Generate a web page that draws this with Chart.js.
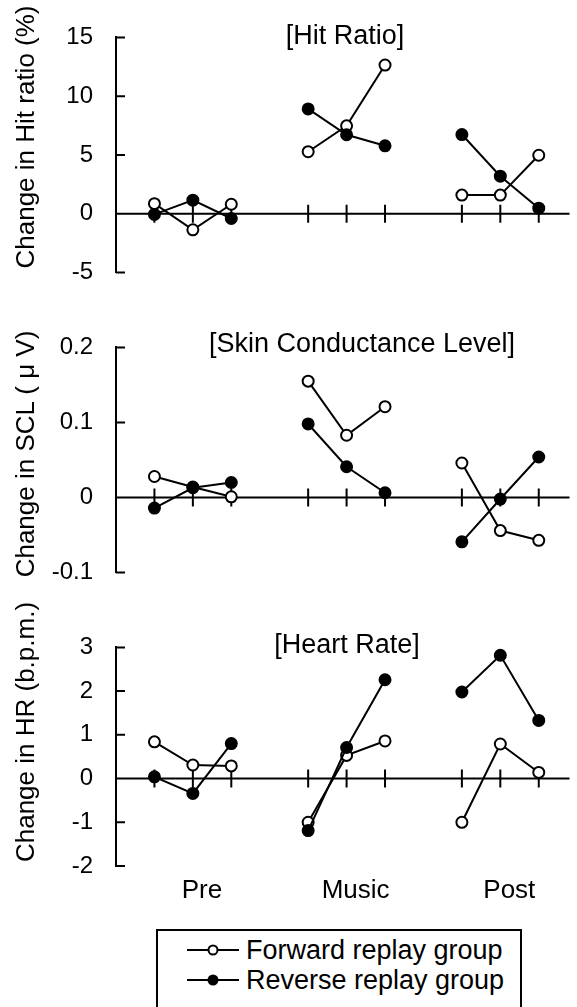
<!DOCTYPE html>
<html>
<head>
<meta charset="utf-8">
<script src="https://cdn.jsdelivr.net/npm/chart.js@4.4.0/dist/chart.umd.min.js"></script>
<style>
  body { margin: 0; background: #fff; width: 577px; height: 1007px; position: relative; overflow: hidden;
         font-family: 'Liberation Sans', Arial, sans-serif; color: #000; }
  canvas { position: absolute; left: 0; }
  .ptitle { position: absolute; width: 400px; text-align: center; font-size: 27px; line-height: 27px; white-space: nowrap; }
  .ytitle { position: absolute; width: 320px; height: 30px; line-height: 30px; text-align: center; font-size: 26px;
            white-space: nowrap; transform: rotate(-90deg); }
  .legend { position: absolute; left: 156px; top: 929px; width: 362px; height: 100px; border: 2px solid #000; font-size: 27px; }
  .legend .row { position: absolute; left: 0; height: 30px; line-height: 30px; white-space: nowrap; }
  .legend svg { position: absolute; left: 29px; top: 8px; }
  .legend span { position: absolute; left: 88px; top: 0; }
</style>
</head>
<body>
<canvas id="hitChart" width="577" height="310" style="top:0px"></canvas>
<canvas id="sclChart" width="577" height="300" style="top:310px"></canvas>
<canvas id="hrChart" width="577" height="300" style="top:610px"></canvas>

<div class="ptitle" style="left:145px; top:22px">[Hit Ratio]</div>
<div class="ptitle" style="left:162px; top:330px">[Skin Conductance Level]</div>
<div class="ptitle" style="left:147px; top:631px">[Heart Rate]</div>

<div class="ytitle" style="left:-135px; top:122px">Change in Hit ratio (%)</div>
<div class="ytitle" style="left:-135px; top:439px">Change in SCL ( &mu; V)</div>
<div class="ytitle" style="left:-135px; top:717px">Change in HR (b.p.m.)</div>

<div class="legend">
  <div class="row" style="top:4px">
    <svg width="52" height="14"><line x1="0" y1="7" x2="52" y2="7" stroke="#000" stroke-width="2"/><circle cx="26" cy="7" r="4.5" fill="#fff" stroke="#000" stroke-width="2"/></svg>
    <span>Forward replay group</span>
  </div>
  <div class="row" style="top:34px">
    <svg width="52" height="14"><line x1="0" y1="7" x2="52" y2="7" stroke="#000" stroke-width="2"/><circle cx="26" cy="7" r="5.5" fill="#000"/></svg>
    <span>Reverse replay group</span>
  </div>
</div>

<script>
// three sessions, three trials each
var phases = ['Pre', 'Music', 'Post'];

var hitForward = [0.86, -1.36, 0.81, 5.28, 7.48, 12.65, 1.59, 1.59, 4.98];
var hitReverse = [-0.05, 1.16, -0.4, 8.92, 6.72, 5.78, 6.74, 3.2, 0.48];

var sclForward = [0.028, 0.014, 0.001, 0.155, 0.083, 0.121, 0.046, -0.044, -0.057];
var sclReverse = [-0.014, 0.013, 0.020, 0.098, 0.041, 0.0064, -0.059, -0.002, 0.054];

var hrForward = [0.84, 0.31, 0.29, -1.0, 0.53, 0.86, -1.0, 0.79, 0.14];
var hrReverse = [0.04, -0.34, 0.80, -1.19, 0.71, 2.26, 1.98, 2.82, 1.33];

var FONT = "'Liberation Sans', Arial, sans-serif";

// trial i sits at phase*4 + trial, a null point breaks the line between phases
function toPoints(values) {
    var pts = [];
    for (var i = 0; i < values.length; i++) {
        var phase = Math.floor(i / 3);
        var trial = i % 3;
        if (i > 0 && trial === 0) pts.push({x: phase * 4 - 1, y: null});
        pts.push({x: phase * 4 + trial, y: values[i]});
    }
    return pts;
}

// zero line with crossing ticks, inward ticks on the y axis
var axisMarks = {
    id: 'axisMarks',
    beforeDatasetsDraw: function(chart) {
        var ctx = chart.ctx, area = chart.chartArea;
        var xs = chart.scales.x, ys = chart.scales.y;
        var y0 = ys.getPixelForValue(0);
        ctx.save();
        ctx.strokeStyle = '#000';
        ctx.lineWidth = 2;
        ctx.beginPath();
        ctx.moveTo(area.left, y0);
        ctx.lineTo(area.right, y0);
        ys.ticks.forEach(function(t) {
            var py = ys.getPixelForValue(t.value);
            ctx.moveTo(area.left, py);
            ctx.lineTo(area.left + 9, py);
        });
        chart.data.datasets[0].data.forEach(function(p) {
            if (p.y === null) return;
            var px = xs.getPixelForValue(p.x);
            ctx.moveTo(px, y0 - 9);
            ctx.lineTo(px, y0 + 9);
        });
        ctx.stroke();
        ctx.restore();
    }
};

function makePanel(id, forward, reverse, yMin, yMax, yStep, pad, showPhases) {
    var xAxis = {
        type: 'linear', min: -1, max: 10.8, display: false
    };
    if (showPhases) {
        xAxis = {
            type: 'linear', min: -1, max: 10.8, position: 'bottom',
            afterBuildTicks: function(s) {
                s.ticks = phases.map(function(p, i) { return {value: i * 4 + 1}; });
            },
            ticks: {
                callback: function(v, i) { return phases[i]; },
                padding: 9, labelOffset: 9, autoSkip: false, maxRotation: 0,
                color: '#000', font: {family: FONT, size: 26}
            },
            grid: {display: false, drawTicks: false},
            border: {display: false},
            afterFit: function(s) { s.height = 44; }
        };
    }
    return new Chart(document.getElementById(id), {
        type: 'line',
        data: {
            datasets: [
                {
                    label: 'Forward replay group',
                    data: toPoints(forward),
                    borderColor: '#000', borderWidth: 2, tension: 0,
                    pointRadius: 5.5, pointBorderWidth: 2,
                    pointBackgroundColor: '#fff', pointBorderColor: '#000',
                    order: 1
                },
                {
                    label: 'Reverse replay group',
                    data: toPoints(reverse),
                    borderColor: '#000', borderWidth: 2, tension: 0,
                    pointRadius: 5.5, pointBorderWidth: 2,
                    pointBackgroundColor: '#000', pointBorderColor: '#000',
                    order: 0
                }
            ]
        },
        options: {
            responsive: false,
            animation: false,
            layout: {padding: pad},
            plugins: {legend: {display: false}, tooltip: {enabled: false}},
            scales: {
                x: xAxis,
                y: {
                    min: yMin, max: yMax,
                    ticks: {
                        stepSize: yStep, padding: 23, color: '#000', font: {family: FONT, size: 24},
                        callback: function(v) { return String(Math.round(v * 1000) / 1000); }
                    },
                    grid: {display: false, drawTicks: false},
                    border: {display: true, color: '#000', width: 2},
                    afterFit: function(s) { s.width = 116; }
                }
            }
        },
        plugins: [axisMarks]
    });
}

makePanel('hitChart', hitForward, hitReverse, -5, 15, 5, {top: 25, bottom: 20, left: 0, right: 0}, false);
makePanel('sclChart', sclForward, sclReverse, -0.1, 0.2, 0.1, {top: 20, bottom: 18, left: 0, right: 0}, false);
makePanel('hrChart', hrForward, hrReverse, -2, 3, 1, {top: 27, bottom: 0, left: 0, right: 0}, true);
</script>
</body>
</html>
